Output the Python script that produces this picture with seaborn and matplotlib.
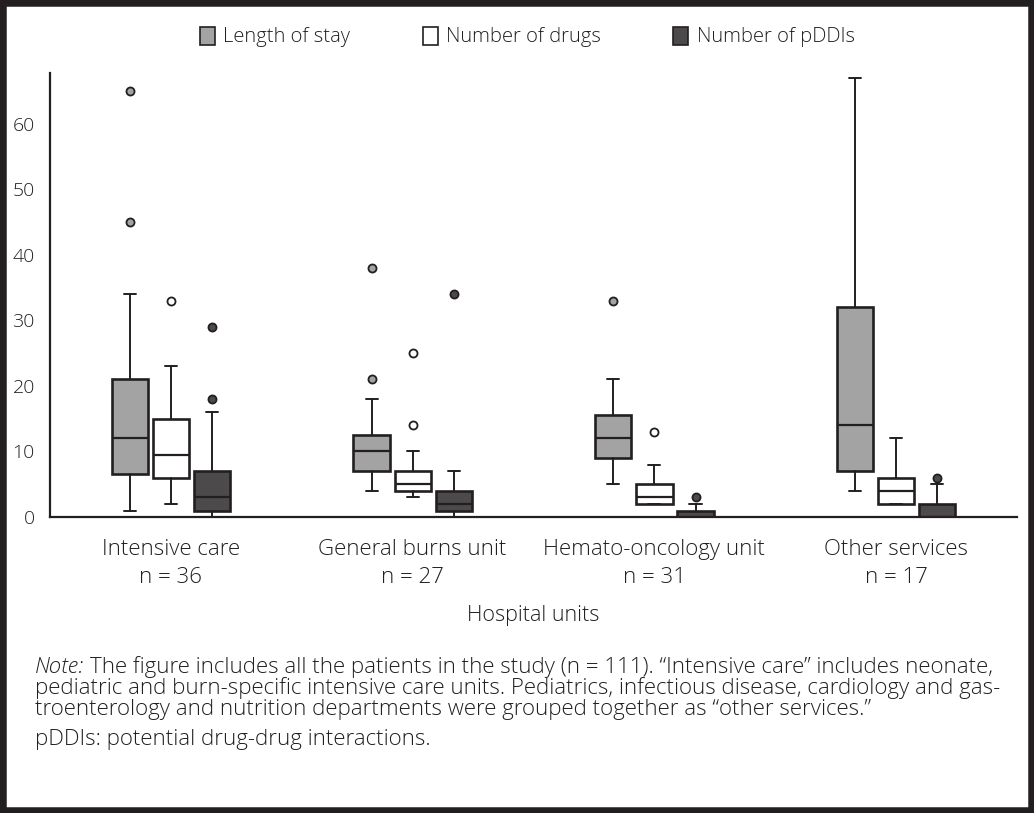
import numpy as np
import matplotlib.pyplot as plt
import seaborn as sns
from matplotlib.patches import Patch, Rectangle

#%% data
units = ['Intensive care', 'General burns unit', 'Hemato-oncology unit', 'Other services']
n_patients = [36, 27, 31, 17]
variables = ['Length of stay', 'Number of drugs', 'Number of pDDIs']

# length of stay (days)
los_whislo = [1, 4, 5, 4]
los_q1 = [6.5, 7, 9, 7]
los_med = [12, 10, 12, 14]
los_q3 = [21, 12.5, 15.5, 32]
los_whishi = [34, 18, 21, 67]
los_fliers = [[45, 65], [21, 38], [33], []]

# number of drugs
drugs_whislo = [2, 3, 2, 2]
drugs_q1 = [6, 4, 2, 2]
drugs_med = [9.5, 5, 3, 4]
drugs_q3 = [15, 7, 5, 6]
drugs_whishi = [23, 10, 8, 12]
drugs_fliers = [[33], [14, 25], [13], []]

# number of pDDIs
pddi_whislo = [0, 0, 0, 0]
pddi_q1 = [1, 1, 0, 0]
pddi_med = [3, 2, 0, 0]
pddi_q3 = [7, 4, 1, 2]
pddi_whishi = [16, 7, 2, 5]
pddi_fliers = [[18, 29], [34], [3], [6]]

#%% style
sns.set_style('white')
plt.rcParams['font.family'] = ['Open Sans', 'DejaVu Sans']
plt.rcParams['font.weight'] = 'light'
plt.rcParams['axes.labelweight'] = 'light'
ink = '#231f20'
fills = ['#a3a3a3', '#ffffff', '#4d4a4b']
offsets = [-0.17, 0.0, 0.17]


def make_stats(lo, q1, med, q3, hi, fl):
    return [dict(whislo=lo[i], q1=q1[i], med=med[i], q3=q3[i], whishi=hi[i],
                 fliers=fl[i]) for i in range(len(units))]


all_stats = [
    make_stats(los_whislo, los_q1, los_med, los_q3, los_whishi, los_fliers),
    make_stats(drugs_whislo, drugs_q1, drugs_med, drugs_q3, drugs_whishi, drugs_fliers),
    make_stats(pddi_whislo, pddi_q1, pddi_med, pddi_q3, pddi_whishi, pddi_fliers),
]

fig = plt.figure(figsize=(10.34, 8.13), dpi=100)
ax = fig.add_axes([0.0484, 0.364, 0.9352, 0.546])

for j, stats in enumerate(all_stats):
    pos = np.arange(len(units)) + offsets[j]
    ax.bxp(stats, positions=pos, widths=0.15, capwidths=0.05,
           patch_artist=True, manage_ticks=False,
           boxprops=dict(facecolor=fills[j], edgecolor=ink, linewidth=1.9),
           medianprops=dict(color=ink, linewidth=1.6),
           whiskerprops=dict(color=ink, linewidth=1.4),
           capprops=dict(color=ink, linewidth=1.4),
           flierprops=dict(marker='o', markerfacecolor=fills[j],
                           markeredgecolor=ink, markersize=5.8,
                           markeredgewidth=1.3))

ax.set_xlim(-0.5, 3.5)
ax.set_ylim(0, 67.7)
ax.set_yticks(range(0, 61, 10))
ax.set_xticks(range(len(units)))
ax.set_xticklabels([f'{u}\nn = {n}' for u, n in zip(units, n_patients)],
                   linespacing=1.45)
ax.tick_params(axis='both', length=0, colors=ink)
ax.tick_params(axis='y', labelsize=14, pad=11)
ax.tick_params(axis='x', labelsize=16, pad=16)
ax.set_xlabel('Hospital units', fontsize=15.5, color=ink, labelpad=12)
sns.despine(ax=ax)
for s in ['left', 'bottom']:
    ax.spines[s].set_color(ink)
    ax.spines[s].set_linewidth(1.6)

handles = [Patch(facecolor=c, edgecolor=ink, linewidth=1.2, label=v)
           for c, v in zip(fills, variables)]
leg = fig.legend(handles=handles, loc='center', bbox_to_anchor=(0.51, 1 - 37 / 813),
                 ncol=3, frameon=False, fontsize=14.5, handlelength=0.75,
                 handleheight=1.0, handletextpad=0.4, columnspacing=3.6)
for t in leg.get_texts():
    t.set_color(ink)

#%% note below the chart
note_size = 16
H = 813
nt = fig.text(35 / 1034, 1 - 678 / H, 'Note:', style='italic', fontsize=note_size,
              color=ink, va='bottom')
ax.annotate('The figure includes all the patients in the study (n = 111). '
            '\u201cIntensive care\u201d includes neonate,',
            xy=(1, 0), xycoords=nt, xytext=(4, 0), textcoords='offset points',
            fontsize=note_size, color=ink, va='bottom', ha='left',
            annotation_clip=False)
fig.text(35 / 1034, 1 - 688 / H,
         'pediatric and burn-specific intensive care units. Pediatrics, infectious '
         'disease, cardiology and gas-',
         fontsize=note_size, color=ink, va='center')
fig.text(35 / 1034, 1 - 709 / H,
         'troenterology and nutrition departments were grouped together as '
         '\u201cother services.\u201d',
         fontsize=note_size, color=ink, va='center')
fig.text(35 / 1034, 1 - 739 / H, 'pDDIs: potential drug-drug interactions.',
         fontsize=note_size, color=ink, va='center')

# dark frame round the figure
fig.add_artist(Rectangle((0, 0), 1, 1, transform=fig.transFigure, fill=False,
                         edgecolor=ink, linewidth=9))

fig.savefig('out.png', dpi=100)
